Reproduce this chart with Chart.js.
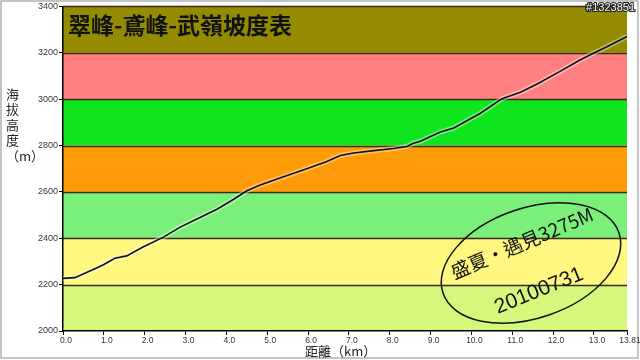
<!DOCTYPE html>
<html>
<head>
<meta charset="utf-8">
<script src="https://cdn.jsdelivr.net/npm/chart.js@4.4.1/dist/chart.umd.min.js"></script>
<style>
  html, body { margin: 0; padding: 0; background: #fff; }
  #wrap { width: 640px; height: 360px; }
</style>
</head>
<body>
<div id="wrap"><canvas id="grafica" width="640" height="360"></canvas></div>
<script>
const distanciaKm = [0, 0.29, 0.74, 0.99, 1.27, 1.56, 1.97, 2.46, 2.87, 3.28, 3.77, 4.17, 4.50, 4.83, 5.40, 5.97, 6.46, 6.79, 7.12, 7.61, 8.10, 8.42, 8.58, 8.75, 9.24, 9.57, 10.22, 10.75, 11.20, 11.61, 12.18, 12.67, 13.0, 13.33, 13.81];
const alturaM = [2227, 2230, 2265, 2286, 2314, 2324, 2363, 2405, 2448, 2483, 2525, 2567, 2605, 2630, 2665, 2700, 2731, 2757, 2768, 2778, 2787, 2796, 2810, 2818, 2858, 2876, 2939, 3002, 3030, 3065, 3121, 3170, 3199, 3227, 3270];

const ticksX = [0, 1, 2, 3, 4, 5, 6, 7, 8, 9, 10, 11, 12, 13, 13.81];
const etiquetasX = ['0.0', '1.0', '2.0', '3.0', '4.0', '5.0', '6.0', '7.0', '8.0', '9.0', '10.0', '11.0', '12.0', '13.0', '13.81'];
const ticksY = [2000, 2200, 2400, 2600, 2800, 3000, 3200, 3400];

// franjas de color por altura
const franjaDesde = [2000, 2200, 2400, 2600, 2800, 3000, 3200];
const franjaHasta = [2200, 2400, 2600, 2800, 3000, 3200, 3400];
const franjaColor = ['#d5f77c', '#fff780', '#7af07a', '#ff9a08', '#10e41e', '#ff8080', '#958b00'];

const titulo = '翠峰-鳶峰-武嶺坡度表';
const tituloY = ['海', '拔', '高', '度', '（m）'];
const tituloX = '距離（km）';
const marca = '#1323851';
const nota1 = '盛夏・遇見3275M';
const nota2 = '20100731';

const fuente = '"Liberation Sans", Arial, sans-serif';
const fuenteCJK = '"Noto Sans CJK TC", "Noto Sans CJK SC", sans-serif';

// fondo, franjas y marco exterior
const franjas = {
  id: 'franjas',
  beforeDraw(chart) {
    const { ctx, chartArea: a, scales: { y } } = chart;
    ctx.save();
    ctx.fillStyle = '#fff';
    ctx.fillRect(0, 0, chart.width, chart.height);
    ctx.strokeStyle = '#b0b0b0';
    ctx.lineWidth = 1.5;
    ctx.strokeRect(1, 1, chart.width - 3, chart.height - 3);

    franjaDesde.forEach((desde, i) => {
      const y1 = y.getPixelForValue(franjaHasta[i]);
      const y0 = y.getPixelForValue(desde);
      ctx.fillStyle = franjaColor[i];
      ctx.fillRect(a.left, y1, a.right - a.left, y0 - y1);
    });
    ctx.strokeStyle = '#3a2c12';
    ctx.lineWidth = 1.6;
    franjaHasta.forEach(h => {
      const py = Math.round(y.getPixelForValue(h)) + 0.5;
      ctx.beginPath();
      ctx.moveTo(a.left, py);
      ctx.lineTo(a.right, py);
      ctx.stroke();
    });
    ctx.restore();
  }
};

// textos y la elipse
const textos = {
  id: 'textos',
  afterDraw(chart) {
    const { ctx, chartArea: a } = chart;
    ctx.save();

    ctx.fillStyle = '#111';
    ctx.font = 'bold 23px ' + fuenteCJK;
    ctx.textBaseline = 'middle';
    ctx.textAlign = 'left';
    ctx.fillText(titulo, a.left + 5, 25);

    // marca de agua arriba a la derecha
    ctx.font = '11px ' + fuente;
    ctx.textAlign = 'right';
    ctx.lineJoin = 'round';
    ctx.lineWidth = 2.2;
    ctx.strokeStyle = '#222';
    ctx.strokeText(marca, 635, 8);
    ctx.fillStyle = '#fff';
    ctx.fillText(marca, 635, 8);

    ctx.fillStyle = '#222';
    ctx.font = '13px ' + fuenteCJK;
    ctx.textAlign = 'left';
    tituloY.forEach((c, i) => ctx.fillText(c, 6, 94 + i * 15.5));

    ctx.font = '13px ' + fuenteCJK;
    ctx.fillText(tituloX, 305, 351);

    // elipse
    ctx.strokeStyle = '#111';
    ctx.lineWidth = 1.5;
    ctx.beginPath();
    ctx.ellipse(531, 263, 93, 55, -19 * Math.PI / 180, 0, Math.PI * 2);
    ctx.stroke();

    ctx.fillStyle = '#111';
    ctx.textAlign = 'center';
    ctx.save();
    ctx.translate(522, 243);
    ctx.rotate(-23 * Math.PI / 180);
    ctx.font = '19px ' + fuenteCJK;
    ctx.fillText(nota1, 0, 0);
    ctx.restore();

    ctx.save();
    ctx.translate(539, 291);
    ctx.rotate(-22 * Math.PI / 180);
    ctx.font = '21px ' + fuente;
    ctx.fillText(nota2, 0, 0);
    ctx.restore();

    ctx.restore();
  }
};

const puntos = distanciaKm.map((d, i) => ({ x: d, y: alturaM[i] }));

new Chart(document.getElementById('grafica'), {
  type: 'line',
  data: {
    datasets: [
      {
        data: puntos,
        borderColor: '#111',
        borderWidth: 1.6,
        pointRadius: 0,
        tension: 0,
        order: 1
      },
      {
        data: puntos,
        borderColor: 'rgba(255,255,255,0.4)',
        borderWidth: 5,
        pointRadius: 0,
        tension: 0,
        order: 2
      }
    ]
  },
  options: {
    responsive: false,
    animation: false,
    layout: { padding: { top: 3, right: 13, left: 0, bottom: 0 } },
    plugins: { legend: { display: false }, tooltip: { enabled: false } },
    scales: {
      x: {
        type: 'linear',
        min: 0,
        max: 13.81,
        afterBuildTicks: s => { s.ticks = ticksX.map(v => ({ value: v })); },
        afterFit: s => { s.height = 29; },
        ticks: {
          autoSkip: false,
          maxRotation: 0,
          padding: 1,
          labelOffset: 3,
          color: '#333',
          font: { size: 8.5, family: fuente },
          callback: (v, i) => etiquetasX[i]
        },
        grid: { drawOnChartArea: false, drawTicks: true, tickLength: 4, color: '#000' },
        border: { display: true, color: '#000', width: 1.5 }
      },
      y: {
        min: 2000,
        max: 3400,
        afterBuildTicks: s => { s.ticks = ticksY.map(v => ({ value: v })); },
        afterFit: s => { s.width = 63; },
        ticks: {
          padding: 1,
          color: '#333',
          font: { size: 9, family: fuente },
          callback: v => String(v)
        },
        grid: { drawOnChartArea: false, drawTicks: true, tickLength: 4, color: '#000' },
        border: { display: true, color: '#000', width: 1.5 }
      }
    }
  },
  plugins: [franjas, textos]
});
</script>
</body>
</html>
